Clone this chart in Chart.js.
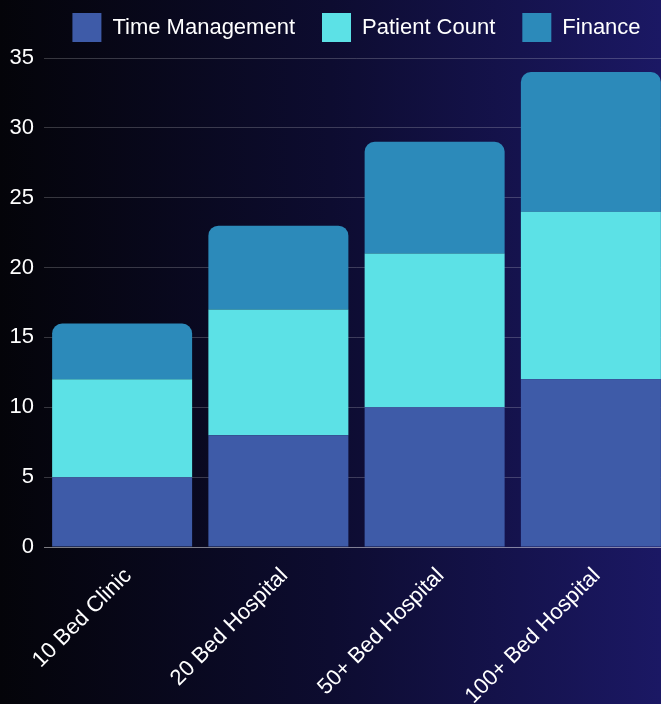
<!DOCTYPE html>
<html>
<head>
<meta charset="utf-8">
<script src="https://cdn.jsdelivr.net/npm/chart.js@4/dist/chart.umd.min.js"></script>
<style>
  html, body {
    margin: 0;
    padding: 0;
    width: 661px;
    height: 704px;
    overflow: hidden;
    background: linear-gradient(to right, #040409 0%, #0d0c30 50%, #1b1864 100%);
  }
  #wrap {
    position: absolute;
    left: 0;
    top: 0;
    width: 669px;
    height: 704px;
  }
</style>
</head>
<body>
<div id="wrap"><canvas id="chart"></canvas></div>
<script>
const categories = ['10 Bed Clinic', '20 Bed Hospital', '50+ Bed Hospital', '100+ Bed Hospital'];
const timeManagement = [5, 8, 10, 12];
const patientCount = [7, 9, 11, 12];
const finance = [4, 6, 8, 10];
const yTicks = [0, 5, 10, 15, 20, 25, 30, 35];

const font = { family: '"Liberation Sans", Arial, sans-serif', size: 22 };
const gridColor = 'rgba(255,255,255,0.2)';

new Chart(document.getElementById('chart'), {
  type: 'bar',
  data: {
    labels: categories,
    datasets: [
      { label: 'Time Management', data: timeManagement, backgroundColor: '#3e5ba8' },
      { label: 'Patient Count', data: patientCount, backgroundColor: '#5ce1e6' },
      {
        label: 'Finance',
        data: finance,
        backgroundColor: '#2c8aba',
        borderSkipped: false,
        borderRadius: { topLeft: 10, topRight: 10, bottomLeft: 0, bottomRight: 0 }
      }
    ]
  },
  options: {
    responsive: true,
    maintainAspectRatio: false,
    animation: false,
    categoryPercentage: 1,
    barPercentage: 0.896,
    layout: { padding: { top: -14 } },
    plugins: {
      legend: {
        position: 'top',
        fullSize: false,
        labels: {
          color: '#fff',
          font: font,
          boxWidth: 29,
          boxHeight: 29,
          padding: 27
        }
      },
      // empty title used only as a small gap under the legend
      title: {
        display: true,
        text: '',
        weight: 500,
        fullSize: false,
        font: { size: 1, lineHeight: 1 },
        padding: { top: 5, bottom: 0 }
      },
      tooltip: { enabled: false }
    },
    scales: {
      x: {
        stacked: true,
        grid: { display: false },
        border: { display: true, color: 'rgba(255,255,255,0.35)', width: 1 },
        ticks: {
          color: '#fff',
          font: font,
          minRotation: 45,
          maxRotation: 45,
          autoSkip: false,
          padding: 8,
          labelOffset: 6
        },
        afterFit: s => { s.height = 157; }
      },
      y: {
        stacked: true,
        min: 0,
        max: 35,
        afterBuildTicks: s => { s.ticks = yTicks.map(v => ({ value: v })); },
        grid: { color: gridColor, drawTicks: false },
        border: { display: false },
        ticks: { color: '#fff', font: font, padding: 10 },
        afterFit: s => { s.width = 44; }
      }
    }
  }
});
</script>
</body>
</html>
